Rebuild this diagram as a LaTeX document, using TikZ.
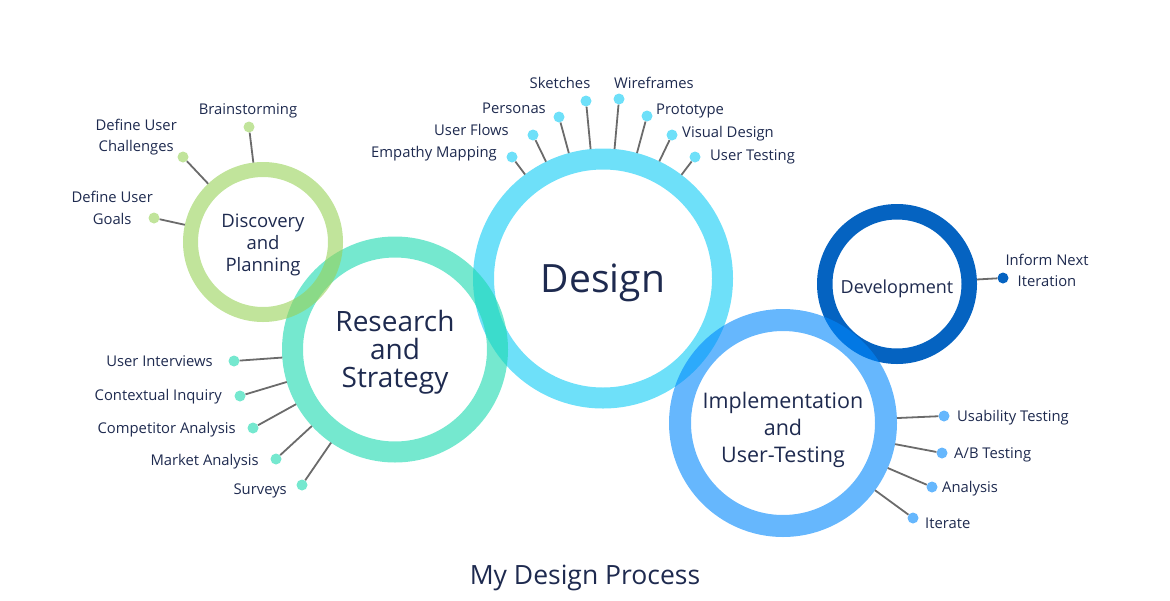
\documentclass[tikz,border=0pt]{standalone}
\usepackage{fontspec}
\setmainfont{Open Sans}
\usetikzlibrary{positioning}
\definecolor{ink}{HTML}{1E2A4F}
\definecolor{stemgray}{HTML}{6B6B6B}
\definecolor{discgreen}{HTML}{98D258}
\definecolor{resmint}{HTML}{19D9AF}
\definecolor{descyan}{HTML}{0DCBF5}
\definecolor{devblue}{HTML}{0563C1}
\definecolor{implblue}{HTML}{0087FC}
\begin{document}
\begin{tikzpicture}[x=1pt,y=-1pt,
  ring/.style={circle,draw=#1,draw opacity=0.6,inner sep=0pt},
  stagetxt/.style={text=ink,align=center,inner sep=0pt},
  dot/.style={circle,fill=#1,fill opacity=0.6,inner sep=0pt,minimum size=11pt},
  stem/.style={draw=stemgray,line width=1.8pt},
  lbl/.style={text=ink,inner sep=0pt,align=center,font=\fontsize{14.8}{21.5}\selectfont}]
 \useasboundingbox (0,0) rectangle (1170,600);
 % the five stages
 \node[ring=descyan,line width=21pt,minimum size=239pt,
   label={[stagetxt,name=tdes,yshift=-4pt,font=\fontsize{39}{44}\selectfont]center:Design}] (des) at (603,278.5) {};
 \node[ring=resmint,line width=21pt,minimum size=205pt,
   label={[stagetxt,name=tres,yshift=-3pt,font=\fontsize{28}{28}\selectfont]center:Research\\and\\Strategy}] (res) at (395,349.5) {};
 \node[ring=discgreen,line width=15pt,minimum size=145pt,
   label={[stagetxt,name=tdisc,yshift=-3pt,font=\fontsize{18.5}{22}\selectfont]center:Discovery\\and\\Planning}] (disc) at (263,242) {};
 \node[ring=devblue,draw opacity=1,line width=15.5pt,minimum size=144.5pt,
   label={[stagetxt,name=tdev,yshift=-5pt,font=\fontsize{18}{22}\selectfont]center:Development}] (dev) at (897,284) {};
 \node[ring=implblue,line width=22pt,minimum size=206pt,
   label={[stagetxt,name=timpl,yshift=-7pt,font=\fontsize{21.5}{27}\selectfont]center:Implementation\\and\\User-Testing}] (impl) at (783,423) {};
 % discovery
 \foreach \i/\x/\y/\a/\lx/\ly/\t in {1/249/127/center/248/111/Brainstorming,
     2/183/157/east/177/137/{Define User\\Challenges},3/154/218/east/153/208/{Define User\\Goals}}{
   \node[dot=discgreen] (dp\i) at (\x,\y) {};
   \draw[stem] (disc) -- (dp\i);
   \node[lbl,anchor=\a] (tdp\i) at (\lx,\ly) {\t};}
 % research
 \foreach \i/\x/\y/\lx/\ly/\t in {1/234/361/213/361/User Interviews,2/240/396/222/397/Contextual Inquiry,
     3/253/428/236/430/Competitor Analysis,4/276/459/259/462/Market Analysis,5/302/485/287/491/Surveys}{
   \node[dot=resmint] (rs\i) at (\x,\y) {};
   \draw[stem] (res) -- (rs\i);
   \node[lbl,anchor=east] (trs\i) at (\lx,\ly) {\t};}
 % design
 \foreach \i/\x/\y/\a/\lx/\ly/\t in {1/512/157/east/497/154/Empathy Mapping,2/533/135/east/509/130/User Flows,
     3/559/117/east/546/108/Personas,4/586/101/center/560/83/Sketches,5/619/99/center/654/83/Wireframes,
     6/647/116/west/656/111/Prototype,7/672/135/west/682/134/Visual Design,8/695/157/west/710/157/User Testing}{
   \node[dot=descyan] (ds\i) at (\x,\y) {};
   \draw[stem] (des) -- (ds\i);
   \node[lbl,anchor=\a] (tds\i) at (\lx,\ly) {\t};}
 % development
 \node[dot=devblue,fill opacity=1] (dv1) at (1003,278) {};
 \draw[stem] (dev) -- (dv1);
 \node[lbl] (tdv1) at (1047,270.5) {Inform Next\\Iteration};
 % implementation
 \foreach \i/\x/\y/\lx/\ly/\t in {1/944/416/957/418/Usability Testing,2/942/453/954/455/{A/B Testing},
     3/932/487/942/489/Analysis,4/913/518/925/523/Iterate}{
   \node[dot=implblue] (im\i) at (\x,\y) {};
   \draw[stem] (impl) -- (im\i);
   \node[lbl,anchor=west] (tim\i) at (\lx,\ly) {\t};}
 \node[text=ink,font=\fontsize{26.5}{30}\selectfont] (title) at (585,578) {My Design Process};
\end{tikzpicture}
\end{document}
